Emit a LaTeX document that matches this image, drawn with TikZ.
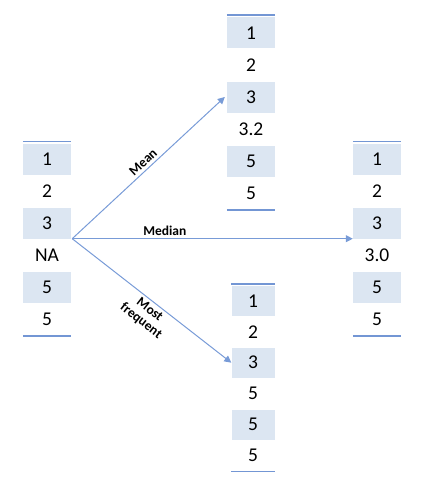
\documentclass[tikz,border=0pt]{standalone}
\usepackage{fontspec}
\setmainfont{Carlito}
\usetikzlibrary{arrows.meta}
\definecolor{cellblue}{RGB}{220,230,242}
\definecolor{lineblue}{RGB}{115,150,212}
\definecolor{arrowblue}{RGB}{120,155,215}

\begin{document}
\begin{tikzpicture}[x=1pt, y=-1pt,
    cell/.style={minimum width=48pt, minimum height=31pt, inner sep=0pt,
        font=\fontsize{19.5}{21}\selectfont},
    row/.code={\ifodd#1\tikzset{fill=cellblue}\fi},
    rule/.style={draw=lineblue, line width=1.6pt},
    link/.style={draw=arrowblue, line width=1pt, -{Triangle[length=7pt, width=7pt]}},
    tag/.style={font=\fontsize{13.5}{14}\bfseries\selectfont, align=center, inner sep=3pt}]
    \useasboundingbox (0,0) rectangle (442,487);

    % input column with the missing value
    \foreach \v [count=\i] in {1,2,3,NA,5,5}
        \node[cell, row=\i] (l\i) at (47, {127+32*\i}) {\v};
    % filled with the mean
    \foreach \v [count=\i] in {1,2,3,3.2,5,5}
        \node[cell, row=\i] (a\i) at (251, {1+32*\i}) {\v};
    % filled with the median
    \foreach \v [count=\i] in {1,2,3,3.0,5,5}
        \node[cell, row=\i] (m\i) at (377, {127+32*\i}) {\v};
    % filled with the most frequent value
    \foreach \v [count=\i] in {1,2,3,5,5,5}
        \node[cell, row=\i, minimum width=43pt, minimum height=30pt] (f\i) at (253, {270+30.9*\i}) {\v};

    \foreach \c in {l,a,m,f} {
        \draw[rule] ([yshift=2pt]\c1.north west) -- ([yshift=2pt]\c1.north east);
        \draw[rule] ([yshift=-1pt]\c6.south west) -- ([yshift=-1pt]\c6.south east);
    }

    \coordinate (src) at ([xshift=1pt]l3.south east);
    \draw[link] (src) -- ([xshift=-2pt]a3.west)
        node[tag, pos=0.5, sloped, above] {Mean};
    \draw[link] (src) -- (m3.south west)
        node[tag, pos=0.33, above] {Median};
    \draw[link] (src) -- (f3.west)
        node[tag, pos=0.52, sloped, below] {Most\\frequent};
\end{tikzpicture}
\end{document}
